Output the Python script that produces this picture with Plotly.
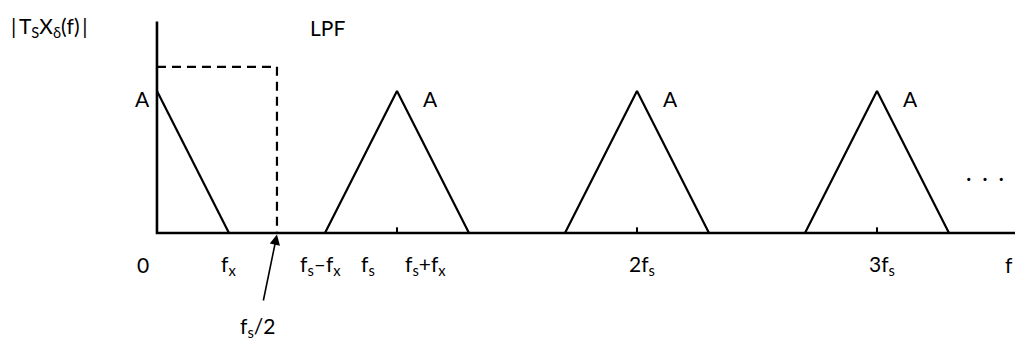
import plotly.graph_objects as go

# Spectrum of the ideally sampled signal (frequencies in units of fs, amplitude in units of A)
fs = 1.0
fx = 0.3
amp = 1.0
lpf_gain = 1.17
replica_centers = [1, 2, 3]
replica_labels = ["A", "A", "A"]
axis_labels = ["0", "f<sub>x</sub>", "f<sub>s</sub>–f<sub>x</sub>", "f<sub>s</sub>",
               "f<sub>s</sub>+f<sub>x</sub>", "2f<sub>s</sub>", "3f<sub>s</sub>", "f"]
axis_label_x = [-0.06, 0.30, 0.68, 0.88, 1.12, 2.02, 3.02, 3.55]

X_MIN, X_MAX = -0.654, 3.575
Y_MIN, Y_MAX = -0.789, 1.641
LINE = dict(color="black", width=2.2)
FONT = dict(family="Lato, 'Open Sans', sans-serif", size=21, color="black")

fig = go.Figure()

# axes
fig.add_trace(go.Scatter(x=[0, 0, X_MAX], y=[1.49, 0, 0], mode="lines",
                         line=dict(color="black", width=2.6), hoverinfo="skip"))

# baseband half-triangle
fig.add_trace(go.Scatter(x=[0, fx], y=[amp, 0], mode="lines", line=LINE, hoverinfo="skip"))

# shifted replicas and their tick marks
for c in replica_centers:
    fig.add_trace(go.Scatter(x=[c * fs - fx, c * fs, c * fs + fx], y=[0, amp, 0],
                             mode="lines", line=LINE, hoverinfo="skip"))
    fig.add_trace(go.Scatter(x=[c * fs, c * fs], y=[0, 0.04], mode="lines",
                             line=dict(color="black", width=2), hoverinfo="skip"))

# ideal low-pass filter
fig.add_trace(go.Scatter(x=[0, fs / 2, fs / 2], y=[lpf_gain, lpf_gain, 0], mode="lines",
                         line=dict(color="black", width=2.2, dash="9px,6px"), hoverinfo="skip"))

ann = []
ann.append(dict(x=-0.615, y=1.45, text="|\u2009T<sub>S</sub>X<sub>δ</sub>(f)\u2009|", xanchor="left"))
ann.append(dict(x=0.63, y=1.45, text="LPF", xanchor="left"))
ann.append(dict(x=-0.06, y=0.95, text="A"))
for c, t in zip(replica_centers, replica_labels):
    ann.append(dict(x=c * fs + 0.14, y=0.95, text=t))
ann.append(dict(x=3.45, y=0.39, text="·  ·  ·"))
for xl, t in zip(axis_label_x, axis_labels):
    ann.append(dict(x=xl, y=-0.225, text=t))
ann.append(dict(x=0.42, y=-0.665, text="f<sub>s</sub>/2"))

annotations = [dict(a, xref="x", yref="y", showarrow=False, font=FONT,
                    **({} if "xanchor" in a else {"xanchor": "center"}), yanchor="middle")
               for a in ann]

# arrow pointing at fs/2
annotations.append(dict(x=fs / 2, y=-0.01, ax=0.442, ay=-0.486, xref="x", yref="y",
                        axref="x", ayref="y", text="", showarrow=True,
                        arrowhead=2, arrowsize=1.3, arrowwidth=1.6, arrowcolor="black"))

fig.update_layout(
    width=1015, height=345, margin=dict(l=0, r=0, t=0, b=0),
    plot_bgcolor="white", paper_bgcolor="white", showlegend=False,
    xaxis=dict(range=[X_MIN, X_MAX], visible=False, fixedrange=True),
    yaxis=dict(range=[Y_MIN, Y_MAX], visible=False, fixedrange=True),
    annotations=annotations,
)

fig.write_html("out.html")
